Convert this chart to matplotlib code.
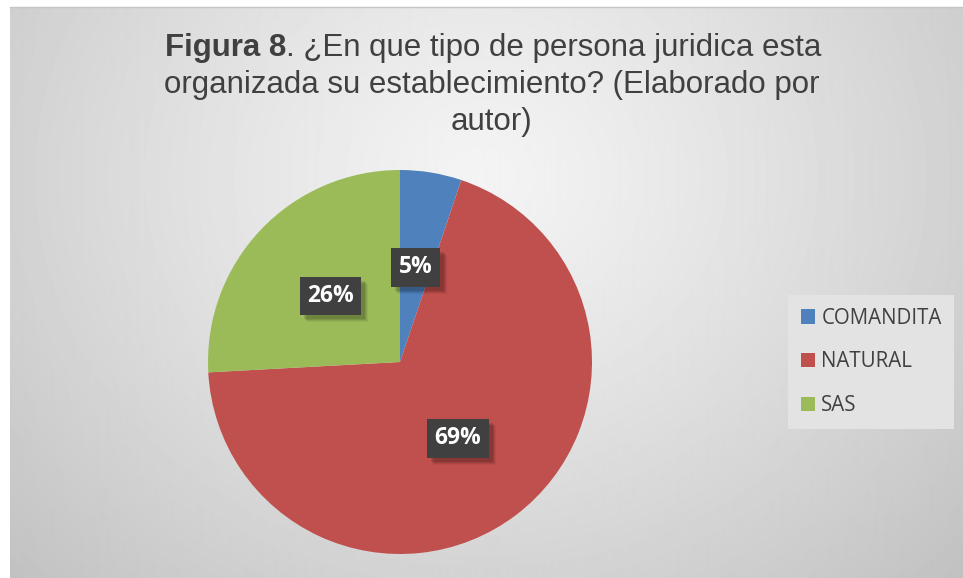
import matplotlib
matplotlib.use('Agg')
import matplotlib.pyplot as plt
import numpy as np
from matplotlib.lines import Line2D
from matplotlib.patches import Rectangle
from matplotlib.transforms import IdentityTransform

categories = ['COMANDITA', 'NATURAL', 'SAS']
values = [3, 40, 15]
colors = ['#4f81bd', '#c0504d', '#9bbb59']
title_bold = 'Figura 8'
title_line1 = '. ¿En que tipo de persona juridica esta'
title_line2 = 'organizada su establecimiento? (Elaborado por'
title_line3 = 'autor)'

W, H = 963, 578
fig = plt.figure(figsize=(W / 100, H / 100), dpi=100)
fig.patch.set_facecolor('white')

# background gradient panel
bg = fig.add_axes([10 / W, 0, (W - 10) / W, (H - 7) / H])
bg.set_axis_off()
ny, nx = 571, 953
yy, xx = np.mgrid[0:ny, 0:nx]
d = np.hypot((xx - 470) / 640.0, (yy - 170) / 560.0)
shade = 0.955 - 0.19 * np.clip(d, 0, 1.2) ** 1.2
bg.imshow(shade, cmap='gray', vmin=0, vmax=1, aspect='auto', interpolation='bilinear')
fig.add_artist(Line2D([10 / W, 1], [(H - 7) / H, (H - 7) / H], transform=fig.transFigure,
                      color='#c4c4c4', lw=1))

# pie
ax = fig.add_axes([208 / W, 24 / H, 384 / W, 384 / H])
ax.patch.set_visible(False)
wedges, texts, autotexts = ax.pie(values, colors=colors, startangle=90, counterclock=False,
                                  autopct='%1.0f%%', pctdistance=0.5,
                                  wedgeprops=dict(linewidth=0))
ax.set_xlim(-1, 1)
ax.set_ylim(-1, 1)
ax.set_aspect('equal')

for t in autotexts:
    t.set_fontfamily('Open Sans')
    t.set_fontweight('bold')
    t.set_fontsize(16.5)
    t.set_color('white')
    t.set_zorder(5)
    t.set_bbox(dict(boxstyle='square,pad=0.32', facecolor='#404040', edgecolor='none'))

# legend
leg = ax.legend(wedges, categories, loc='upper left',
                bbox_to_anchor=(788 / W, 1 - 295 / H), bbox_transform=fig.transFigure,
                frameon=True, facecolor='#e3e3e3', edgecolor='none', fancybox=False,
                framealpha=1, handlelength=0.7, handleheight=0.7, handletextpad=0.3,
                labelspacing=1.1, borderpad=0.62, borderaxespad=0,
                prop=dict(family='Open Sans', size=14.8), labelcolor='#404040')

# title
tfont = dict(family='Liberation Sans', size=22.5, color='#404040')
r = fig.canvas.get_renderer()
tb = fig.text(0, 0, title_bold, fontweight='bold', va='baseline', **tfont)
tr_ = fig.text(0, 0, title_line1, va='baseline', **tfont)
wb = tb.get_window_extent(r).width
wr = tr_.get_window_extent(r).width
x0 = 493 - (wb + wr) / 2
tb.set_position((x0 / W, 1 - 56 / H))
tr_.set_position(((x0 + wb) / W, 1 - 56 / H))
fig.text(492 / W, 1 - 93 / H, title_line2, ha='center', va='baseline', **tfont)
fig.text(491 / W, 1 - 130 / H, title_line3, ha='center', va='baseline', **tfont)

# drop shadows for the label boxes (pixel coordinates, between wedges and boxes)
fig.canvas.draw()
r = fig.canvas.get_renderer()
for t in autotexts:
    bb = t.get_bbox_patch().get_window_extent(r)
    for k, a in [(7, 0.05), (6, 0.07), (5, 0.09), (4, 0.1)]:
        ax.add_patch(Rectangle((bb.x0 + k, bb.y0 - k), bb.width, bb.height,
                               transform=IdentityTransform(), facecolor=(0, 0, 0, a),
                               edgecolor='none', zorder=4, clip_on=False))

fig.savefig('out.png', dpi=100, facecolor=fig.get_facecolor())
